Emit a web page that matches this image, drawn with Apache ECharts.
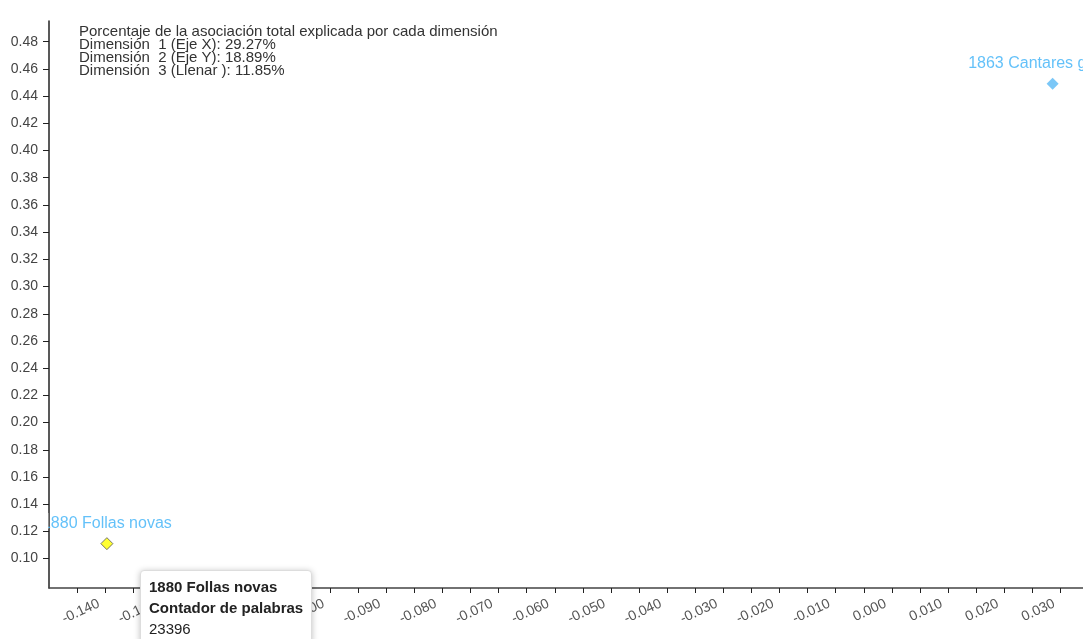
<!DOCTYPE html>
<html>
<head>
<meta charset="utf-8">
<script src="https://cdn.jsdelivr.net/npm/echarts@6/dist/echarts.min.js"></script>
<style>
html,body{margin:0;padding:0;overflow:hidden;background:#fff;}
#chart{width:1083px;height:639px;}
</style>
</head>
<body>
<div id="chart"></div>
<script>
// ---- data ----
const names = ['1863 Cantares gallegos', '1880 Follas novas'];
const xValues = [0.0286, -0.1397];
const yValues = [0.449, 0.111];
const wordCounts = [null, 23396];
const xTickValues = [-0.145,-0.140,-0.135,-0.130,-0.125,-0.120,-0.115,-0.110,-0.105,-0.100,-0.095,-0.090,-0.085,-0.080,-0.075,-0.070,-0.065,-0.060,-0.055,-0.050,-0.045,-0.040,-0.035,-0.030,-0.025,-0.020,-0.015,-0.010,-0.005,0.000,0.005,0.010,0.015,0.020,0.025,0.030];
const xLabelValues = [-0.140,-0.130,-0.120,-0.110,-0.100,-0.090,-0.080,-0.070,-0.060,-0.050,-0.040,-0.030,-0.020,-0.010,0.000,0.010,0.020,0.030];
const yLabelValues = [0.10,0.12,0.14,0.16,0.18,0.20,0.22,0.24,0.26,0.28,0.30,0.32,0.34,0.36,0.38,0.40,0.42,0.44,0.46,0.48];
const infoLines = [
  'Porcentaje de la asociación total explicada por cada dimensión',
  'Dimensión  1 (Eje X): 29.27%',
  'Dimensión  2 (Eje Y): 18.89%',
  'Dimensión  3 (Llenar ): 11.85%'
];
const counterLabel = 'Contador de palabras';

// ---- styles ----
const pointFills = ['#5ab9f5', '#ffff00'];
const pointBorders = ['#5ab9f5', '#555555'];
const FONT = '"Liberation Sans", Arial, sans-serif';

const chart = echarts.init(document.getElementById('chart'));
const seriesData = names.map((n, i) => ({
  name: n,
  value: [xValues[i], yValues[i]],
  count: wordCounts[i],
  itemStyle: { color: pointFills[i], borderColor: pointBorders[i], borderWidth: i === 1 ? 1 : 0 }
}));

chart.setOption({
  animation: false,
  textStyle: { fontFamily: FONT },
  title: {
    text: infoLines.join('\n'),
    left: 79, top: 25, padding: 0,
    textStyle: { fontSize: 15, lineHeight: 13, fontWeight: 'normal', color: '#333', fontFamily: FONT }
  },
  grid: { left: 49, right: 0, top: 21, bottom: 51 },
  xAxis: {
    type: 'value', min: -0.150, max: 0.034,
    splitLine: { show: false },
    axisLine: { onZero: false, lineStyle: { color: '#444', width: 1.5 } },
    axisTick: { show: true, length: 5, lineStyle: { color: '#222' }, customValues: xTickValues },
    axisLabel: {
      customValues: xLabelValues, rotate: 25, margin: 12, padding: [0, 7, 0, 0],
      color: '#555', fontSize: 14, fontFamily: FONT,
      formatter: v => v.toFixed(3)
    }
  },
  yAxis: {
    type: 'value', min: 0.0784, max: 0.4952,
    splitLine: { show: false },
    axisLine: { show: true, onZero: false, lineStyle: { color: '#222', width: 1.5 } },
    axisTick: { show: true, length: 6, lineStyle: { color: '#222' }, customValues: yLabelValues },
    axisLabel: {
      customValues: yLabelValues, margin: 11,
      color: '#444', fontSize: 14, fontFamily: FONT,
      formatter: v => v.toFixed(2)
    }
  },
  tooltip: {
    trigger: 'item', triggerOn: 'none', alwaysShowContent: true,
    position: [140, 570],
    backgroundColor: '#fff', borderColor: '#ddd', borderWidth: 1, padding: [5, 8],
    extraCssText: 'border-radius:4px;box-shadow:0 1px 6px rgba(0,0,0,0.25);',
    formatter: p => '<div style="font-family:Liberation Sans,Arial,sans-serif;font-size:15px;line-height:21px;color:#222;">' +
      '<b>' + p.name + '</b><br><b>' + counterLabel + '</b><br>' + (p.data.count == null ? '' : p.data.count) + '</div>'
  },
  series: [{
    type: 'scatter',
    symbol: 'diamond',
    symbolSize: 12,
    data: seriesData,
    label: {
      show: true, position: 'top', distance: 6,
      formatter: '{b}', color: '#3cb2f7', fontSize: 16, fontFamily: FONT
    }
  }],
  graphic: [{
    type: 'rect', z: 100, silent: true,
    shape: { x: 38, y: 513, width: 10.3, height: 16 },
    style: { fill: '#fff' }
  }]
});
chart.dispatchAction({ type: 'showTip', seriesIndex: 0, dataIndex: 1 });
</script>
</body>
</html>
